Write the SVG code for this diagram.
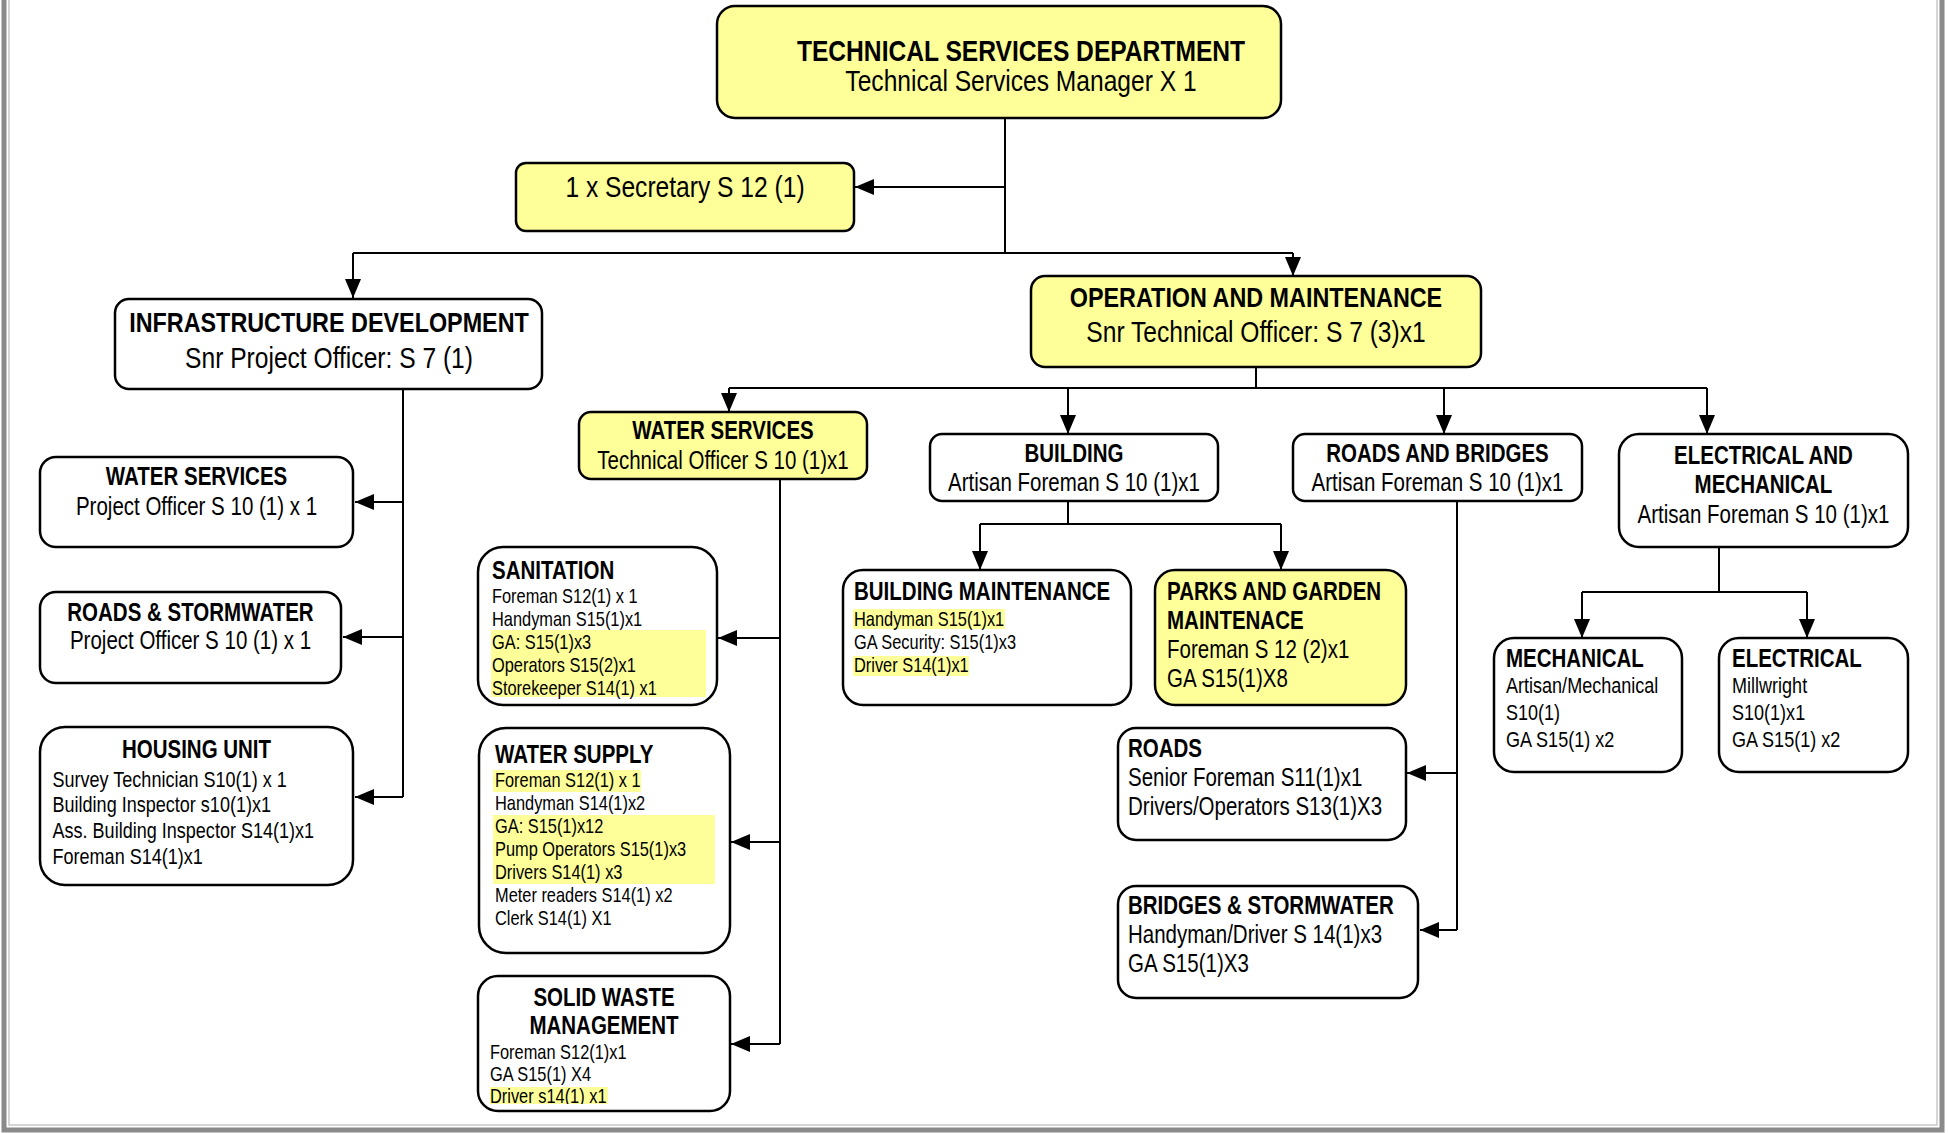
<svg xmlns="http://www.w3.org/2000/svg" width="1948" height="1133" viewBox="0 0 1948 1133">
<style>
text{font-family:"Liberation Sans",Arial,sans-serif;fill:#000}
.b{font-weight:bold}
.f30{font-size:30px}.f28{font-size:28.5px}.f25{font-size:25px}.f22{font-size:22px}.f20{font-size:20px}
.m{text-anchor:middle}
.box{fill:#fff;stroke:#000;stroke-width:2.5}
.y{fill:#ffff99}
.hl{fill:#ffff99}
.con{fill:none;stroke:#000;stroke-width:2}
.frame{fill:none;stroke:#8a8a8a;stroke-width:5}
</style>
<defs>
<marker id="ah" markerUnits="userSpaceOnUse" markerWidth="20" markerHeight="18" refX="19" refY="8" orient="auto">
<path d="M0,0 L19,8 L0,16 z" fill="#000"/>
</marker>
<clipPath id="swclip"><rect x="470" y="960" width="280" height="144"/></clipPath>
</defs>
<rect width="1948" height="1133" fill="#fff"/>
<path class="frame" d="M4,0 V1130 H1942 V0"/>
<path d="M9,0 V1125 H1937 V0" fill="none" stroke="#c8c8c8" stroke-width="1.5"/>

<g id="connectors">
<path class="con" d="M1005,118 V253"/>
<path class="con" d="M1005,187 H855" marker-end="url(#ah)"/>
<path class="con" d="M353,253 H1293"/>
<path class="con" d="M353,253 V298" marker-end="url(#ah)"/>
<path class="con" d="M1293,253 V276" marker-end="url(#ah)"/>
<path class="con" d="M403,389 V797"/>
<path class="con" d="M403,502 H355" marker-end="url(#ah)"/>
<path class="con" d="M403,637 H343" marker-end="url(#ah)"/>
<path class="con" d="M403,797 H355" marker-end="url(#ah)"/>
<path class="con" d="M1256,367 V388"/>
<path class="con" d="M729,388 H1707"/>
<path class="con" d="M729,388 V412" marker-end="url(#ah)"/>
<path class="con" d="M1068,388 V434" marker-end="url(#ah)"/>
<path class="con" d="M1444,388 V434" marker-end="url(#ah)"/>
<path class="con" d="M1707,388 V434" marker-end="url(#ah)"/>
<path class="con" d="M780,479 V1044"/>
<path class="con" d="M780,638 H718" marker-end="url(#ah)"/>
<path class="con" d="M780,842 H731" marker-end="url(#ah)"/>
<path class="con" d="M780,1044 H731" marker-end="url(#ah)"/>
<path class="con" d="M1068,501 V524"/>
<path class="con" d="M980,524 H1281"/>
<path class="con" d="M980,524 V570" marker-end="url(#ah)"/>
<path class="con" d="M1281,524 V570" marker-end="url(#ah)"/>
<path class="con" d="M1457,501 V930"/>
<path class="con" d="M1457,773 H1407" marker-end="url(#ah)"/>
<path class="con" d="M1457,930 H1420" marker-end="url(#ah)"/>
<path class="con" d="M1719,547 V592"/>
<path class="con" d="M1582,592 H1807"/>
<path class="con" d="M1582,592 V638" marker-end="url(#ah)"/>
<path class="con" d="M1807,592 V638" marker-end="url(#ah)"/>
</g>

<g id="n-tsd">
<rect class="box y" x="717" y="6" width="564" height="112" rx="18"/>
<text class="b f30 m" transform="translate(1021 61) scale(.82 1)">TECHNICAL SERVICES DEPARTMENT</text>
<text class="f30 m" transform="translate(1021 91) scale(.82 1)">Technical Services Manager X 1</text>
</g>

<g id="n-secretary">
<rect class="box y" x="516" y="163" width="338" height="68" rx="10"/>
<text class="f30 m" transform="translate(685 197) scale(.82 1)">1 x Secretary S 12 (1)</text>
</g>

<g id="n-infra">
<rect class="box" x="115" y="299" width="427" height="90" rx="14"/>
<text class="b f28 m" transform="translate(329 332) scale(.82 1)">INFRASTRUCTURE DEVELOPMENT</text>
<text class="f30 m" transform="translate(329 368) scale(.82 1)">Snr Project Officer: S 7 (1)</text>
</g>

<g id="n-om">
<rect class="box y" x="1031" y="276" width="450" height="91" rx="14"/>
<text class="b f28 m" transform="translate(1256 307) scale(.82 1)">OPERATION AND MAINTENANCE</text>
<text class="f30 m" transform="translate(1256 342) scale(.82 1)">Snr Technical Officer: S 7 (3)x1</text>
</g>

<g id="n-ws-left">
<rect class="box" x="40" y="457" width="313" height="90" rx="16"/>
<text class="b f25 m" transform="translate(196.5 485) scale(.82 1)">WATER SERVICES</text>
<text class="f25 m" transform="translate(196.5 515) scale(.82 1)">Project Officer S 10 (1) x 1</text>
</g>

<g id="n-rs">
<rect class="box" x="40" y="592" width="301" height="91" rx="16"/>
<text class="b f25 m" transform="translate(190.5 621) scale(.82 1)">ROADS &amp; STORMWATER</text>
<text class="f25 m" transform="translate(190.5 649) scale(.82 1)">Project Officer S 10 (1) x 1</text>
</g>

<g id="n-housing">
<rect class="box" x="40" y="727" width="313" height="158" rx="25"/>
<text class="b f25 m" transform="translate(196.5 758) scale(.82 1)">HOUSING UNIT</text>
<text class="f22" transform="translate(52.5 0) scale(.82 1)"><tspan x="0" y="787">Survey Technician S10(1) x 1</tspan><tspan x="0" y="812">Building Inspector s10(1)x1</tspan><tspan x="0" y="838">Ass. Building Inspector S14(1)x1</tspan><tspan x="0" y="864">Foreman S14(1)x1</tspan></text>
</g>

<g id="n-ws">
<rect class="box y" x="579" y="412" width="288" height="67" rx="12"/>
<text class="b f25 m" transform="translate(723 439) scale(.82 1)">WATER SERVICES</text>
<text class="f25 m" transform="translate(723 469) scale(.82 1)">Technical Officer S 10 (1)x1</text>
</g>

<g id="n-sanitation">
<rect class="box" x="478" y="547" width="239" height="158" rx="25"/>
<rect class="hl" x="491" y="630" width="215" height="67"/>
<text class="b f25" transform="translate(492 579) scale(.82 1)">SANITATION</text>
<text class="f20" transform="translate(492 0) scale(.82 1)"><tspan x="0" y="603">Foreman S12(1) x 1</tspan><tspan x="0" y="626">Handyman S15(1)x1</tspan><tspan x="0" y="649">GA: S15(1)x3</tspan><tspan x="0" y="672">Operators S15(2)x1</tspan><tspan x="0" y="695">Storekeeper S14(1) x1</tspan></text>
</g>

<g id="n-watersupply">
<rect class="box" x="479" y="728" width="251" height="225" rx="27"/>
<rect class="hl" x="493" y="770" width="148" height="22"/>
<rect class="hl" x="493" y="815" width="222" height="69"/>
<text class="b f25" transform="translate(495 763) scale(.82 1)">WATER SUPPLY</text>
<text class="f20" transform="translate(495 0) scale(.82 1)"><tspan x="0" y="787">Foreman S12(1) x 1</tspan><tspan x="0" y="810">Handyman S14(1)x2</tspan><tspan x="0" y="833">GA: S15(1)x12</tspan><tspan x="0" y="856">Pump Operators S15(1)x3</tspan><tspan x="0" y="879">Drivers S14(1) x3</tspan><tspan x="0" y="902">Meter readers S14(1) x2</tspan><tspan x="0" y="925">Clerk S14(1) X1</tspan></text>
</g>

<g id="n-solidwaste">
<rect class="box" x="478" y="976" width="252" height="135" rx="20"/>
<rect class="hl" x="490" y="1087" width="118" height="17"/>
<text class="b f25 m" transform="translate(604 1006) scale(.82 1)">SOLID WASTE</text>
<text class="b f25 m" transform="translate(604 1034) scale(.82 1)">MANAGEMENT</text>
<g clip-path="url(#swclip)">
<text class="f20" transform="translate(490 0) scale(.82 1)"><tspan x="0" y="1059">Foreman S12(1)x1</tspan><tspan x="0" y="1081">GA S15(1) X4</tspan><tspan x="0" y="1103">Driver s14(1) x1</tspan></text>
</g>
</g>

<g id="n-building">
<rect class="box" x="930" y="434" width="288" height="67" rx="12"/>
<text class="b f25 m" transform="translate(1074 462) scale(.82 1)">BUILDING</text>
<text class="f25 m" transform="translate(1074 491) scale(.82 1)">Artisan Foreman S 10 (1)x1</text>
</g>

<g id="n-roadsbridges">
<rect class="box" x="1293" y="434" width="289" height="67" rx="12"/>
<text class="b f25 m" transform="translate(1437.5 462) scale(.82 1)">ROADS AND BRIDGES</text>
<text class="f25 m" transform="translate(1437.5 491) scale(.82 1)">Artisan Foreman S 10 (1)x1</text>
</g>

<g id="n-em">
<rect class="box" x="1619" y="434" width="289" height="113" rx="20"/>
<text class="b f25 m" transform="translate(1763.5 464) scale(.82 1)">ELECTRICAL AND</text>
<text class="b f25 m" transform="translate(1763.5 493) scale(.82 1)">MECHANICAL</text>
<text class="f25 m" transform="translate(1763.5 523) scale(.82 1)">Artisan Foreman S 10 (1)x1</text>
</g>

<g id="n-buildmaint">
<rect class="box" x="843" y="570" width="288" height="135" rx="20"/>
<rect class="hl" x="853" y="609" width="152" height="20"/>
<rect class="hl" x="853" y="656" width="116" height="20"/>
<text class="b f25" transform="translate(854 600) scale(.82 1)">BUILDING MAINTENANCE</text>
<text class="f20" transform="translate(854 0) scale(.82 1)"><tspan x="0" y="626">Handyman S15(1)x1</tspan><tspan x="0" y="649">GA Security: S15(1)x3</tspan><tspan x="0" y="672">Driver S14(1)x1</tspan></text>
</g>

<g id="n-parks">
<rect class="box y" x="1155" y="570" width="251" height="135" rx="20"/>
<text class="b f25" transform="translate(1167 0) scale(.82 1)"><tspan x="0" y="600">PARKS AND GARDEN</tspan><tspan x="0" y="629">MAINTENACE</tspan></text>
<text class="f25" transform="translate(1167 0) scale(.82 1)"><tspan x="0" y="658">Foreman S 12 (2)x1</tspan><tspan x="0" y="687">GA S15(1)X8</tspan></text>
</g>

<g id="n-roads">
<rect class="box" x="1118" y="728" width="288" height="112" rx="18"/>
<text class="b f25" transform="translate(1128 757) scale(.82 1)">ROADS</text>
<text class="f25" transform="translate(1128 0) scale(.82 1)"><tspan x="0" y="786">Senior Foreman S11(1)x1</tspan><tspan x="0" y="815">Drivers/Operators S13(1)X3</tspan></text>
</g>

<g id="n-bridges">
<rect class="box" x="1118" y="886" width="300" height="112" rx="18"/>
<text class="b f25" transform="translate(1128 914) scale(.82 1)">BRIDGES &amp; STORMWATER</text>
<text class="f25" transform="translate(1128 0) scale(.82 1)"><tspan x="0" y="943">Handyman/Driver S 14(1)x3</tspan><tspan x="0" y="972">GA S15(1)X3</tspan></text>
</g>

<g id="n-mech">
<rect class="box" x="1494" y="638" width="188" height="134" rx="20"/>
<text class="b f25" transform="translate(1506 667) scale(.82 1)">MECHANICAL</text>
<text class="f22" transform="translate(1506 0) scale(.82 1)"><tspan x="0" y="693">Artisan/Mechanical</tspan><tspan x="0" y="720">S10(1)</tspan><tspan x="0" y="747">GA S15(1) x2</tspan></text>
</g>

<g id="n-elec">
<rect class="box" x="1719" y="638" width="189" height="134" rx="20"/>
<text class="b f25" transform="translate(1732 667) scale(.82 1)">ELECTRICAL</text>
<text class="f22" transform="translate(1732 0) scale(.82 1)"><tspan x="0" y="693">Millwright</tspan><tspan x="0" y="720">S10(1)x1</tspan><tspan x="0" y="747">GA S15(1) x2</tspan></text>
</g>
</svg>
